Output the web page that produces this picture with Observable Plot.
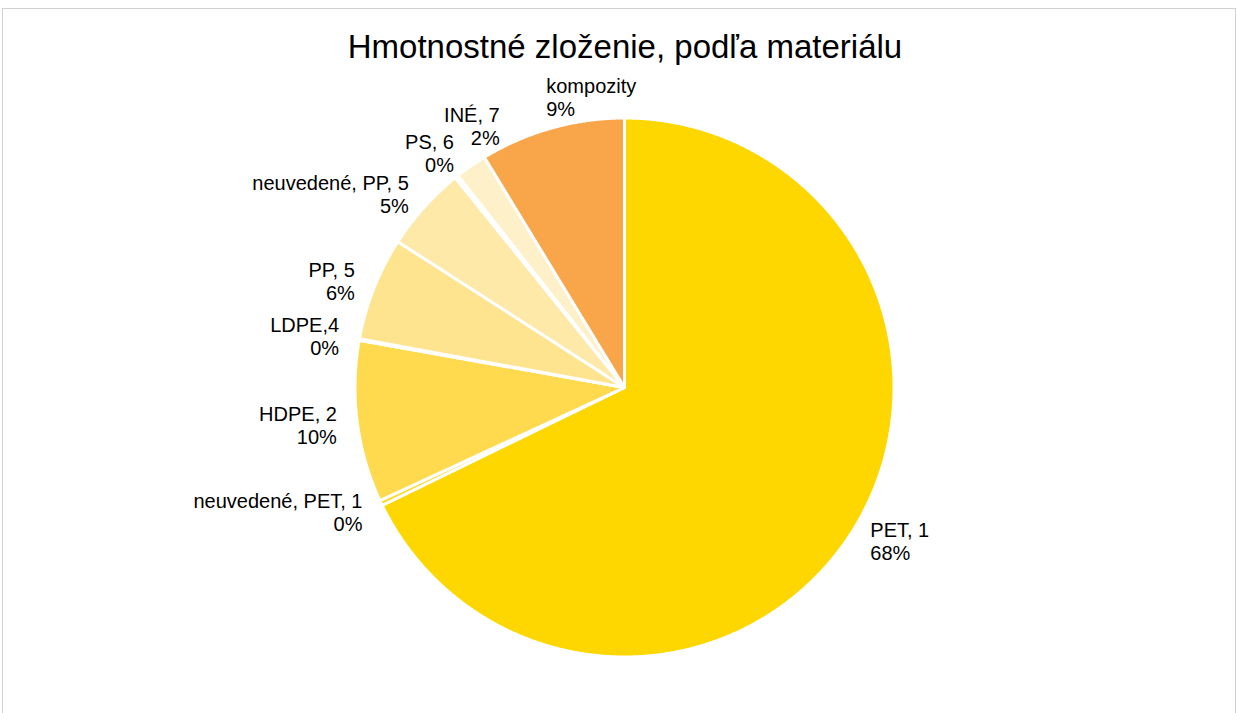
<!DOCTYPE html>
<html>
<head>
<meta charset="utf-8">
<script src="https://cdn.jsdelivr.net/npm/d3@7"></script>
<script src="https://cdn.jsdelivr.net/npm/@observablehq/plot@0.6"></script>
<style>
html, body { margin: 0; padding: 0; background: #fff; overflow: hidden; }
#wrap { position: relative; width: 1238px; height: 713px; overflow: hidden; }
#border { position: absolute; left: 2px; top: 8px; width: 1234px; height: 760px; border: 1px solid #d0d0d0; box-sizing: border-box; }
#chart { position: absolute; left: 0; top: 0; }
</style>
</head>
<body>
<div id="wrap"><div id="border"></div><div id="chart"></div></div>
<script>
// ---- data ----
const title = "Hmotnostné zloženie, podľa materiálu";
const categories = ["PET, 1", "neuvedené, PET, 1", "HDPE, 2", "LDPE,4", "PP, 5", "neuvedené, PP, 5", "PS, 6", "INÉ, 7", "kompozity"];
const values = [67.8, 0.3, 9.7, 0.1, 6.2, 5.1, 0.2, 1.9, 8.7];
const colors = ["#FFD700", "#FFD817", "#FFDA4F", "#FEDF6E", "#FEE48F", "#FEE9A8", "#FEEDB8", "#FEF0C8", "#F9A64A"];

// ---- layout ----
const W = 1238, H = 713;
const CX = 624, CY = 387, R = 269.5, LR = 290;
const FONT = "'Liberation Sans', Arial, sans-serif";
const FS = 20, LH = 23, GH = 20, PADX = 8;

const total = d3.sum(values);
const arcs = d3.pie().sort(null).value(d => d)(values);

// slice polygons
const slices = [];
arcs.forEach((a, i) => {
  const n = Math.max(2, Math.ceil((a.endAngle - a.startAngle) / (Math.PI / 720)));
  slices.push({k: i, x: CX, y: CY, color: colors[i]});
  for (let j = 0; j <= n; j++) {
    const t = a.startAngle + (a.endAngle - a.startAngle) * j / n;
    slices.push({k: i, x: CX + R * Math.sin(t), y: CY - R * Math.cos(t), color: colors[i]});
  }
});

// labels with simple collision avoidance
const ctx = document.createElement("canvas").getContext("2d");
ctx.font = `${FS}px ${FONT}`;
function makeLabel(i, mid, ang) {
  const lines = [categories[i], Math.round(values[i] / total * 100) + "%"];
  const top = Math.cos(mid) > 0.9;
  const anchor = top ? "start" : (Math.sin(mid) < 0 ? "end" : "start");
  const y = CY - LR * Math.cos(ang) - (top ? LH / 2 : 0);
  return {i, ang, lines, anchor, x: CX + LR * Math.sin(ang), y, text: lines.join("\n")};
}
function boxes(l) {
  return l.lines.map((s, j) => {
    const w = ctx.measureText(s).width;
    const yc = l.y + (j - (l.lines.length - 1) / 2) * LH;
    const x0 = l.anchor === "end" ? l.x - w : l.x;
    return {x0: x0 - PADX, x1: x0 + w + PADX, y0: yc - GH / 2, y1: yc + GH / 2};
  });
}
function overlaps(A, B) {
  return A.some(a => B.some(b => a.x0 < b.x1 && b.x0 < a.x1 && a.y0 < b.y1 && b.y0 < a.y1));
}
const placed = [];
arcs.map((a, i) => ({i, mid: (a.startAngle + a.endAngle) / 2}))
  .sort((p, q) => p.mid - q.mid)
  .forEach(({i, mid}) => {
    let ang = mid, lab = makeLabel(i, mid, ang), steps = 0;
    while (placed.some(p => overlaps(boxes(p), boxes(lab))) && steps < 300) {
      ang += Math.PI / 720; steps++;
      lab = makeLabel(i, mid, ang);
    }
    placed.push(lab);
  });

const chart = Plot.plot({
  width: W, height: H, margin: 0,
  x: {domain: [0, W], range: [0, W], axis: null},
  y: {domain: [0, H], range: [0, H], axis: null},
  color: {type: "identity"},
  style: {fontFamily: FONT, background: "transparent", overflow: "visible"},
  marks: [
    Plot.line(slices, {x: "x", y: "y", z: "k", fill: "color", stroke: "#ffffff", strokeWidth: 3, curve: "linear-closed", strokeLinejoin: "round"}),
    Plot.text(placed.filter(d => d.anchor === "end"), {x: "x", y: "y", text: "text", textAnchor: "end", lineAnchor: "middle", lineHeight: LH / FS, fontSize: FS, fill: "#000"}),
    Plot.text(placed.filter(d => d.anchor === "start"), {x: "x", y: "y", text: "text", textAnchor: "start", lineAnchor: "middle", lineHeight: LH / FS, fontSize: FS, fill: "#000"}),
    Plot.text([title], {frameAnchor: "top", lineAnchor: "bottom", dx: 5.5, dy: 57, fontSize: 33, fill: "#000"})
  ]
});
document.getElementById("chart").appendChild(chart);
</script>
</body>
</html>
